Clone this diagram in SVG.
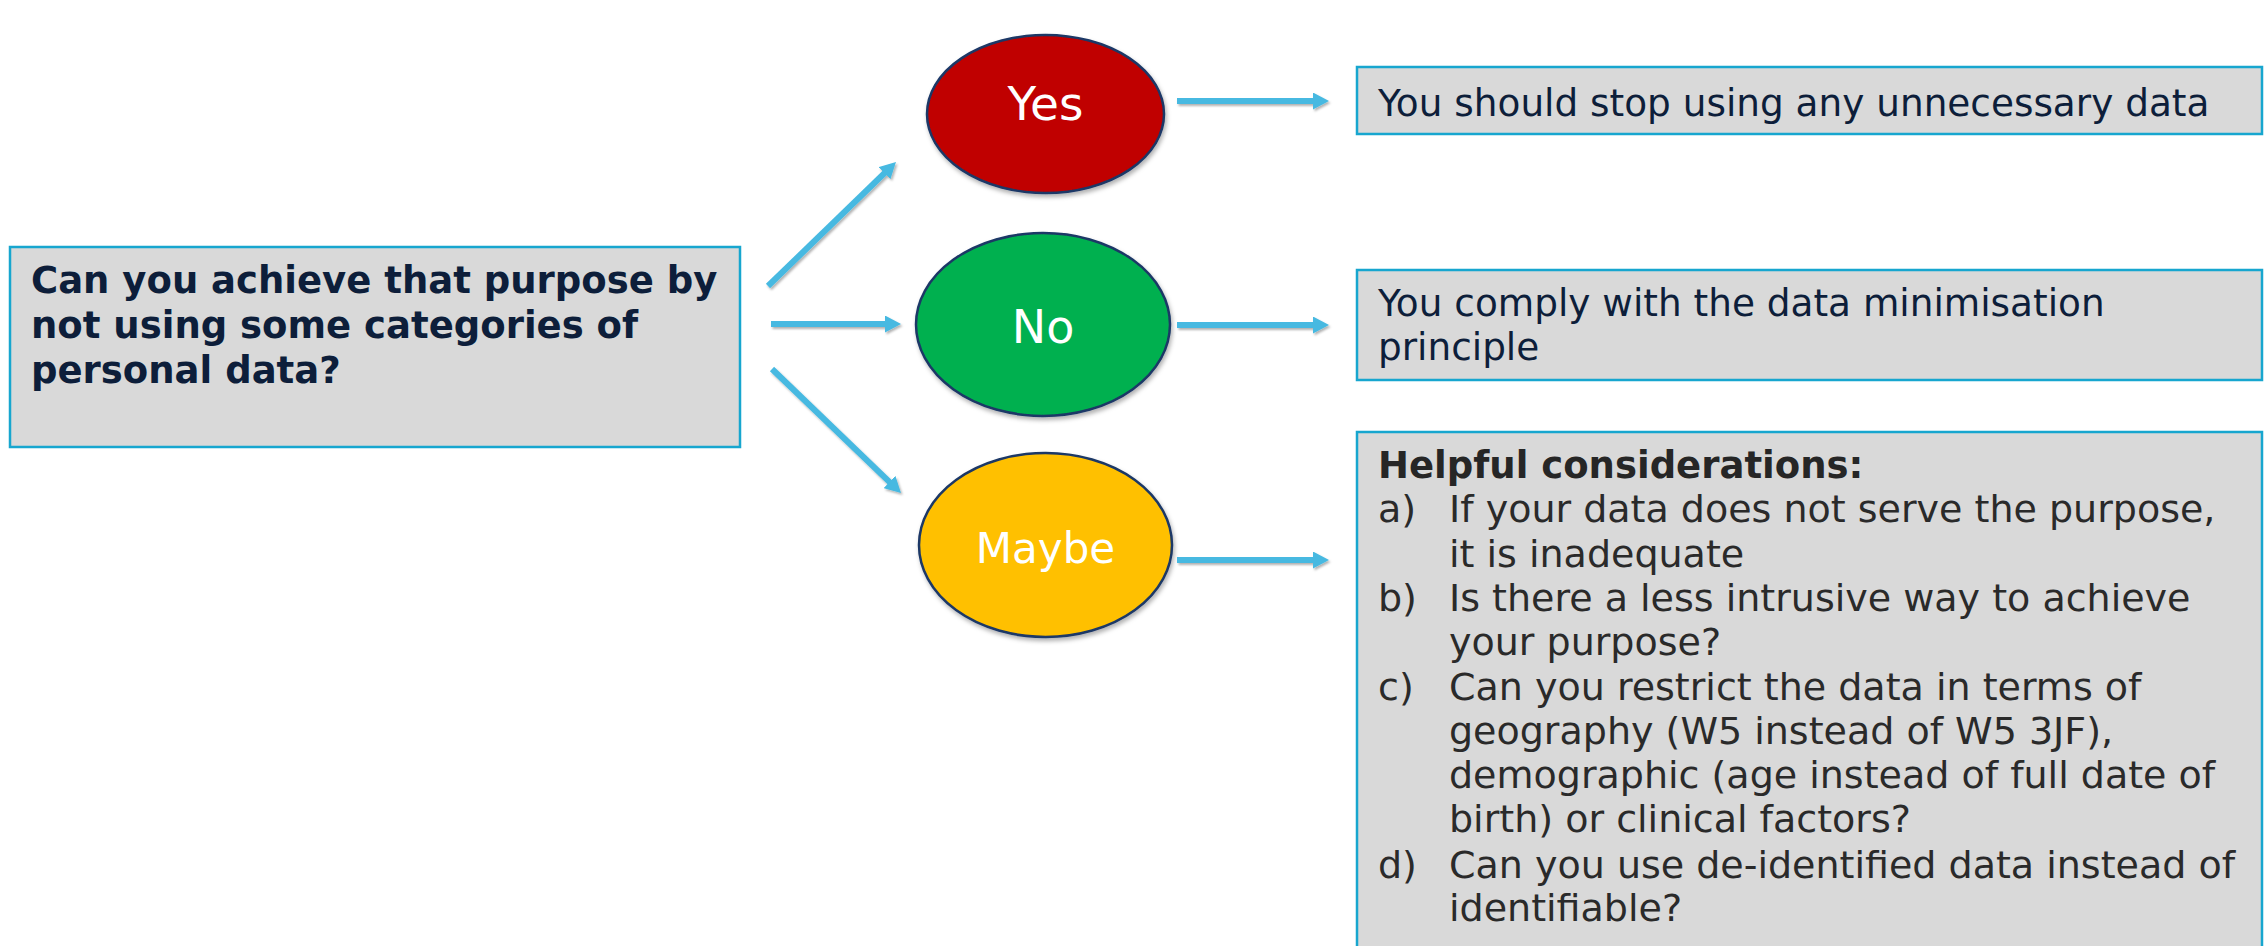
<svg xmlns="http://www.w3.org/2000/svg" width="2264" height="946" viewBox="0 0 2264 946">
  <style>
    .box { fill: #D9D9D9; stroke: #17A6CF; stroke-width: 2.5; }
    .q { font-family: "DejaVu Sans", Verdana, sans-serif; font-weight: bold; font-size: 37px; fill: #0D1E3A; }
    .ans { font-family: "DejaVu Sans", Verdana, sans-serif; font-size: 37.4px; fill: #0D1E3A; }
    .hint { font-family: "DejaVu Sans", Verdana, sans-serif; font-size: 38px; fill: #2A2A2A; }
    .hintb { font-family: "DejaVu Sans", Verdana, sans-serif; font-weight: bold; font-size: 37px; fill: #262626; }
    .lbl { font-family: "DejaVu Sans", Verdana, sans-serif; fill: #FFFFFF; text-anchor: middle; }
    .ell { stroke: #1B3766; stroke-width: 2.5; }
    .arr { stroke: #47B9E1; stroke-width: 6; fill: none; marker-end: url(#head); }
  </style>
  <defs>
    <marker id="head" viewBox="0 0 16 17" refX="6" refY="8.5" markerWidth="16" markerHeight="17" markerUnits="userSpaceOnUse" orient="auto">
      <path d="M0,0 L16,8.5 L0,17 z" fill="#47B9E1"/>
    </marker>
    <filter id="sh" x="-20%" y="-20%" width="140%" height="150%">
      <feDropShadow dx="1.5" dy="3" stdDeviation="2" flood-color="#000" flood-opacity="0.3"/>
    </filter>
    <filter id="ash" x="-20%" y="-50%" width="140%" height="200%">
      <feDropShadow dx="1.5" dy="2" stdDeviation="1.2" flood-color="#000" flood-opacity="0.3"/>
    </filter>
  </defs>

  <g id="question">
    <rect class="box" x="10" y="247" width="730" height="200"/>
    <text class="q" x="31" y="293">Can you achieve that purpose by</text>
    <text class="q" x="31" y="338">not using some categories of</text>
    <text class="q" x="31" y="383">personal data?</text>
  </g>

  <g id="yes">
    <ellipse class="ell" cx="1045.5" cy="114" rx="118.5" ry="79" fill="#C00000" filter="url(#sh)"/>
    <text class="lbl" x="1045.5" y="120" font-size="47">Yes</text>
  </g>

  <g id="no">
    <ellipse class="ell" cx="1043" cy="324.5" rx="127" ry="91.5" fill="#00B050" filter="url(#sh)"/>
    <text class="lbl" x="1043" y="343" font-size="46">No</text>
  </g>

  <g id="maybe">
    <ellipse class="ell" cx="1045.5" cy="545" rx="126.5" ry="92" fill="#FFC000" filter="url(#sh)"/>
    <text class="lbl" x="1045.5" y="563" font-size="42">Maybe</text>
  </g>

  <g id="stop">
    <rect class="box" x="1357" y="67" width="905" height="67"/>
    <text class="ans" x="1378" y="116">You should stop using any unnecessary data</text>
  </g>

  <g id="comply">
    <rect class="box" x="1357" y="270" width="905" height="110"/>
    <text class="ans" x="1378" y="316">You comply with the data minimisation</text>
    <text class="ans" x="1378" y="360">principle</text>
  </g>

  <g id="considerations">
    <rect class="box" x="1357" y="432" width="905" height="530"/>
    <text class="hintb" x="1378" y="478">Helpful considerations:</text>
    <text class="hint" x="1378" y="522">a)</text>
    <text class="hint" x="1449" y="522">If your data does not serve the purpose,</text>
    <text class="hint" x="1449" y="567">it is inadequate</text>
    <text class="hint" x="1378" y="611">b)</text>
    <text class="hint" x="1449" y="611">Is there a less intrusive way to achieve</text>
    <text class="hint" x="1449" y="655">your purpose?</text>
    <text class="hint" x="1378" y="700">c)</text>
    <text class="hint" x="1449" y="700">Can you restrict the data in terms of</text>
    <text class="hint" x="1449" y="744">geography (W5 instead of W5 3JF),</text>
    <text class="hint" x="1449" y="788">demographic (age instead of full date of</text>
    <text class="hint" x="1449" y="832">birth) or clinical factors?</text>
    <text class="hint" x="1378" y="878">d)</text>
    <text class="hint" x="1449" y="878">Can you use de-identified data instead of</text>
    <text class="hint" x="1449" y="921">identifiable?</text>
  </g>

  <g id="connectors" filter="url(#ash)">
    <line class="arr" x1="768" y1="286" x2="888.8" y2="169"/>
    <line class="arr" x1="771" y1="324" x2="891" y2="324"/>
    <line class="arr" x1="772" y1="369" x2="893.8" y2="486.1"/>
    <line class="arr" x1="1177" y1="101" x2="1319" y2="101"/>
    <line class="arr" x1="1177" y1="325" x2="1319" y2="325"/>
    <line class="arr" x1="1177" y1="560" x2="1319" y2="560"/>
  </g>
</svg>
